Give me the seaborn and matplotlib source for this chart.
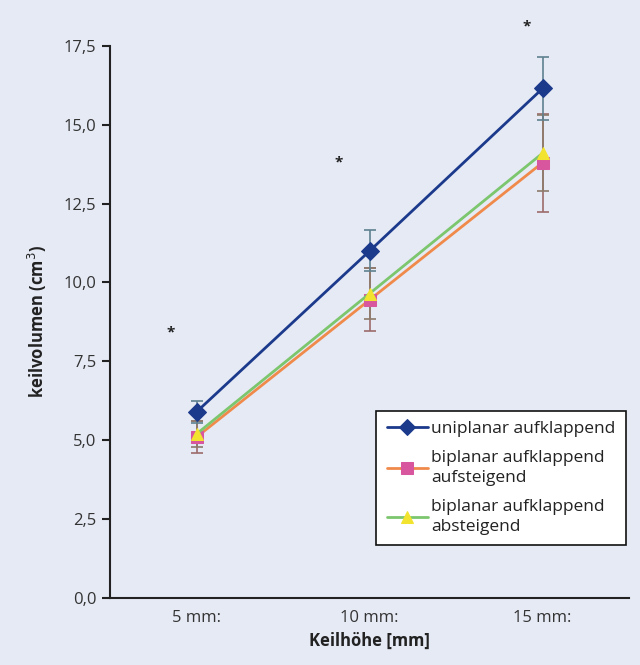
import numpy as np
import pandas as pd
import matplotlib
matplotlib.use("Agg")
import matplotlib.pyplot as plt
import seaborn as sns

kategorien = ["5 mm:", "10 mm:", "15 mm:"]
uniplanar = [5.9, 11.0, 16.15]
uniplanar_sd = [0.35, 0.65, 1.0]
aufsteigend = [5.1, 9.45, 13.8]
aufsteigend_sd = [0.5, 1.0, 1.55]
absteigend = [5.2, 9.65, 14.1]
absteigend_sd = [0.4, 0.8, 1.2]
stern_x = [-0.15, 0.82, 1.91]
stern_y = [8.4, 13.8, 18.1]
serien_namen = ["uniplanar aufklappend", "biplanar aufklappend\naufsteigend",
                "biplanar aufklappend\nabsteigend"]

df = pd.DataFrame({
    "pos": np.tile(np.arange(len(kategorien)), 3),
    "volumen": uniplanar + aufsteigend + absteigend,
    "gruppe": np.repeat(serien_namen, len(kategorien)),
})

bg = "#e6eaf5"
sns.set_style("white")
plt.rcParams["font.family"] = ["Open Sans", "DejaVu Sans"]

fig = plt.figure(figsize=(6.4, 6.65), dpi=100, facecolor=bg)
ax = fig.add_axes([0.172, 0.1008, 0.811, 0.8302])
ax.set_facecolor(bg)

# error bars first so they sit behind the lines
x = np.arange(len(kategorien))
for werte, sd, farbe in [(aufsteigend, aufsteigend_sd, "#9c6b6b"),
                         (absteigend, absteigend_sd, "#8c7a6a"),
                         (uniplanar, uniplanar_sd, "#5f8190")]:
    ax.errorbar(x, werte, yerr=sd, fmt="none", ecolor=farbe, elinewidth=1.2,
                capsize=4, capthick=1.2, zorder=1)

linien_farben = ["#1c3a8c", "#f08a4b", "#7cc66e"]
marker_farben = ["#1c3a8c", "#d8569e", "#f2e42e"]
sns.lineplot(data=df, x="pos", y="volumen", hue="gruppe", style="gruppe",
             palette=linien_farben, markers=["D", "s", "^"], dashes=False,
             linewidth=2, markersize=9, ax=ax, zorder=3)

farb_map = {matplotlib.colors.to_hex(lf): mf for lf, mf in zip(linien_farben, marker_farben)}
for line in ax.lines:
    c = matplotlib.colors.to_hex(line.get_color())
    if c in farb_map:
        line.set_markerfacecolor(farb_map[c])
        line.set_markeredgecolor(farb_map[c])

for sx, sy in zip(stern_x, stern_y):
    ax.text(sx, sy, "*", ha="center", va="center", fontsize=11, color="#222222",
            fontweight="bold", clip_on=False)

ax.set_xlim(-0.5, 2.5)
ax.set_ylim(0, 17.5)
ax.set_xticks(x)
ax.set_xticklabels(kategorien, fontsize=12, color="#333333")
ax.set_xticks([-0.5, 0.5, 1.5, 2.5], minor=True)
ax.tick_params(axis="x", which="major", length=0, pad=9)
ax.tick_params(axis="x", which="minor", length=6, width=1.5, direction="out", color="#222222")
yticks = np.arange(0, 17.6, 2.5)
ax.set_yticks(yticks)
ax.set_yticklabels([f"{t:.1f}".replace(".", ",") for t in yticks], fontsize=12, color="#333333")
ax.tick_params(axis="y", length=6, width=1.5, direction="out", color="#222222", left=True, pad=4)

for side in ["top", "right"]:
    ax.spines[side].set_visible(False)
for side in ["left", "bottom"]:
    ax.spines[side].set_color("#222222")
    ax.spines[side].set_linewidth(1.5)

ax.set_xlabel("Keilhöhe [mm]", fontsize=12, fontweight="bold", color="#222222", labelpad=4)
ax.set_ylabel("keilvolumen (cm$^3$)", fontsize=12, fontweight="bold", color="#222222", labelpad=10)

handles, labels = ax.get_legend_handles_labels()
for h, lf, mf in zip(handles, linien_farben, marker_farben):
    h.set_markerfacecolor(mf)
    h.set_markeredgecolor(mf)
    h.set_markersize(8)
leg = ax.legend(handles, labels, loc="lower right", bbox_to_anchor=(1.01, 0.08),
                fontsize=12.5, frameon=True, fancybox=False, edgecolor="#111111",
                facecolor="white", framealpha=1, handlelength=2.4,
                handletextpad=0.15, labelspacing=0.75, borderpad=0.6)
leg.get_frame().set_linewidth(1.2)
for t in leg.get_texts():
    t.set_linespacing(1.3)
    t.set_color("#222222")

fig.savefig("out.png", dpi=100, facecolor=bg)
